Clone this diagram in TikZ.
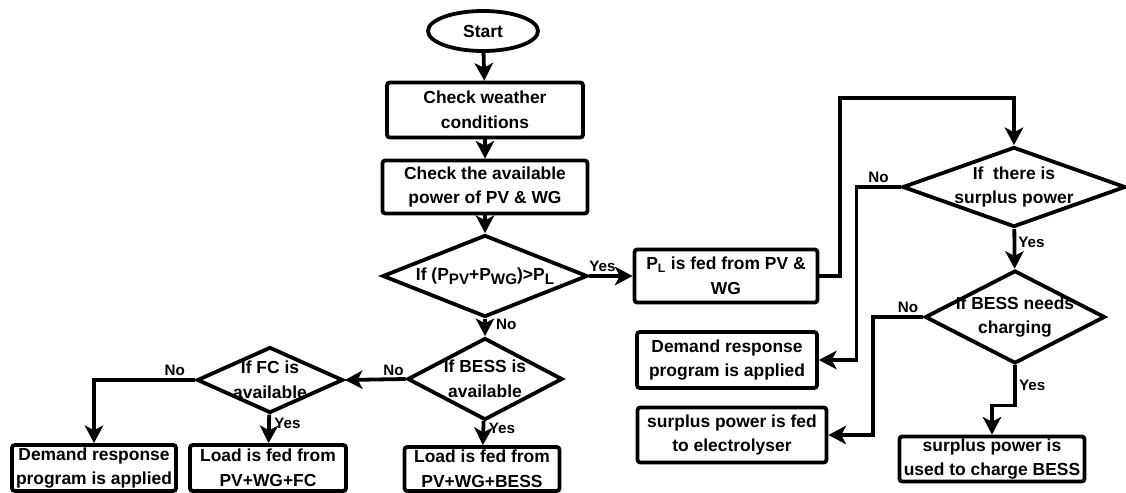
\documentclass[tikz,border=0pt]{standalone}
\usepackage{fontspec}
\setmainfont{Liberation Sans}
\usepackage{tikz}
\usetikzlibrary{shapes.geometric, arrows.meta, positioning}
\newcommand{\lowsub}[1]{\raisebox{-0.45ex}{\fontsize{10.8}{11}\selectfont #1}}

\begin{document}
\begin{tikzpicture}[x=0.025cm, y=-0.025cm,
    block/.style={rectangle, draw=black, line width=2.7pt, fill=white, align=center, rounded corners=2pt, inner xsep=2pt, inner ysep=1pt, font=\fontsize{12.4}{17.5}\selectfont\bfseries},
    decision/.style={diamond, draw=black, line width=2.7pt, fill=white, align=center, aspect=2, inner sep=-0.3cm, font=\fontsize{12.4}{17.5}\selectfont\bfseries},
    terminal/.style={ellipse, draw=black, line width=2.7pt, fill=white, inner sep=0pt, font=\fontsize{12.4}{17.5}\selectfont\bfseries},
    answer/.style={font=\fontsize{10.8}{12}\selectfont\bfseries, inner sep=1.5pt},
    line/.style={draw=black, line width=2.7pt, -{Stealth[length=0.44cm, width=0.46cm, inset=0.12cm]}}]

    \useasboundingbox (0,0) rectangle (1126,493);

    % main column
    \node [terminal, minimum width=2.75cm, minimum height=1.0cm] (start) at (483,31) {Start};
    \node [block, minimum width=4.9cm, minimum height=1.375cm] (weather) at (485,110) {Check weather\\conditions};
    \node [block, minimum width=5.125cm, minimum height=1.325cm] (avail) at (485,187) {Check the available\\power of PV \& WG};
    \node [decision, minimum width=5.125cm, minimum height=2.05cm] (excess) at (485,276) {If (P\lowsub{PV}+P\lowsub{WG})>P\lowsub{L}};
    \node [decision, minimum width=3.875cm, minimum height=2.05cm] (bess) at (485,379) {If BESS is\\available};
    \node [block, minimum width=3.875cm, minimum height=1.1cm] (loadbess) at (482,469) {Load is fed from\\PV+WG+BESS};

    % left branch
    \node [decision, minimum width=3.65cm, minimum height=1.65cm] (fc) at (270,380) {If FC is\\available};
    \node [block, minimum width=3.9cm, minimum height=1.15cm] (loadfc) at (268,468) {Load is fed from\\PV+WG+FC};
    \node [block, minimum width=4.1cm, minimum height=1.15cm] (demandl) at (94,468) {Demand response\\program is applied};

    % right branch
    \node [block, minimum width=4.575cm, minimum height=1.325cm] (fedpl) at (726,276) {P\textsubscript{L} is fed from PV \&\\WG};
    \node [decision, minimum width=5.575cm, minimum height=2.0cm] (surplus) at (1014,187) {If~ there is\\surplus power};
    \node [decision, minimum width=4.5cm, minimum height=2.325cm] (charging) at (1015,317) {If BESS needs\\charging};
    \node [block, minimum width=4.5cm, minimum height=1.4cm] (demandr) at (727,360) {Demand response\\program is applied};
    \node [block, minimum width=4.725cm, minimum height=1.375cm] (electro) at (732,435) {surplus power is fed\\to electrolyser};
    \node [block, minimum width=4.625cm, minimum height=1.125cm] (charge) at (992,459) {surplus power is\\used to charge BESS};
    \coordinate (over) at (840,98);

    \path [line] (start) -- (weather);
    \path [line] (weather) -- (avail);
    \path [line] (avail) -- (excess);
    \path [line] (excess) -- node [answer, right, pos=0.3, xshift=5pt] {No} (bess);
    \path [line] (bess) -- node [answer, right, pos=0.3, xshift=1pt] {Yes} (loadbess);
    \path [line] (bess.west) -- node [answer, above, pos=0.2] {No} (fc.east);
    \path [line] (fc) -- node [answer, right, pos=0.3, xshift=1pt] {Yes} (loadfc);
    \path [line] (fc.west) -| node [answer, above, pos=0.1] {No} (demandl.north);
    \path [line] (excess.east) -- node [answer, above, pos=0.3] {Yes} (fedpl.west);
    \path [line] (fedpl.east) -| (over) -| (surplus.north);
    \path [line] (surplus.west) -- node [answer, above] {No} ++(-44,0) |- (demandr.east);
    \path [line] (surplus) -- node [answer, right, pos=0.35] {Yes} (charging);
    \path [line] (charging.west) -- node [answer, above, pos=0.3] {No} ++(-50,0) |- (electro.east);
    \path [line] (charging.south) -- node [answer, right] {Yes} ++(0,40) -| (charge.north);
\end{tikzpicture}
\end{document}
